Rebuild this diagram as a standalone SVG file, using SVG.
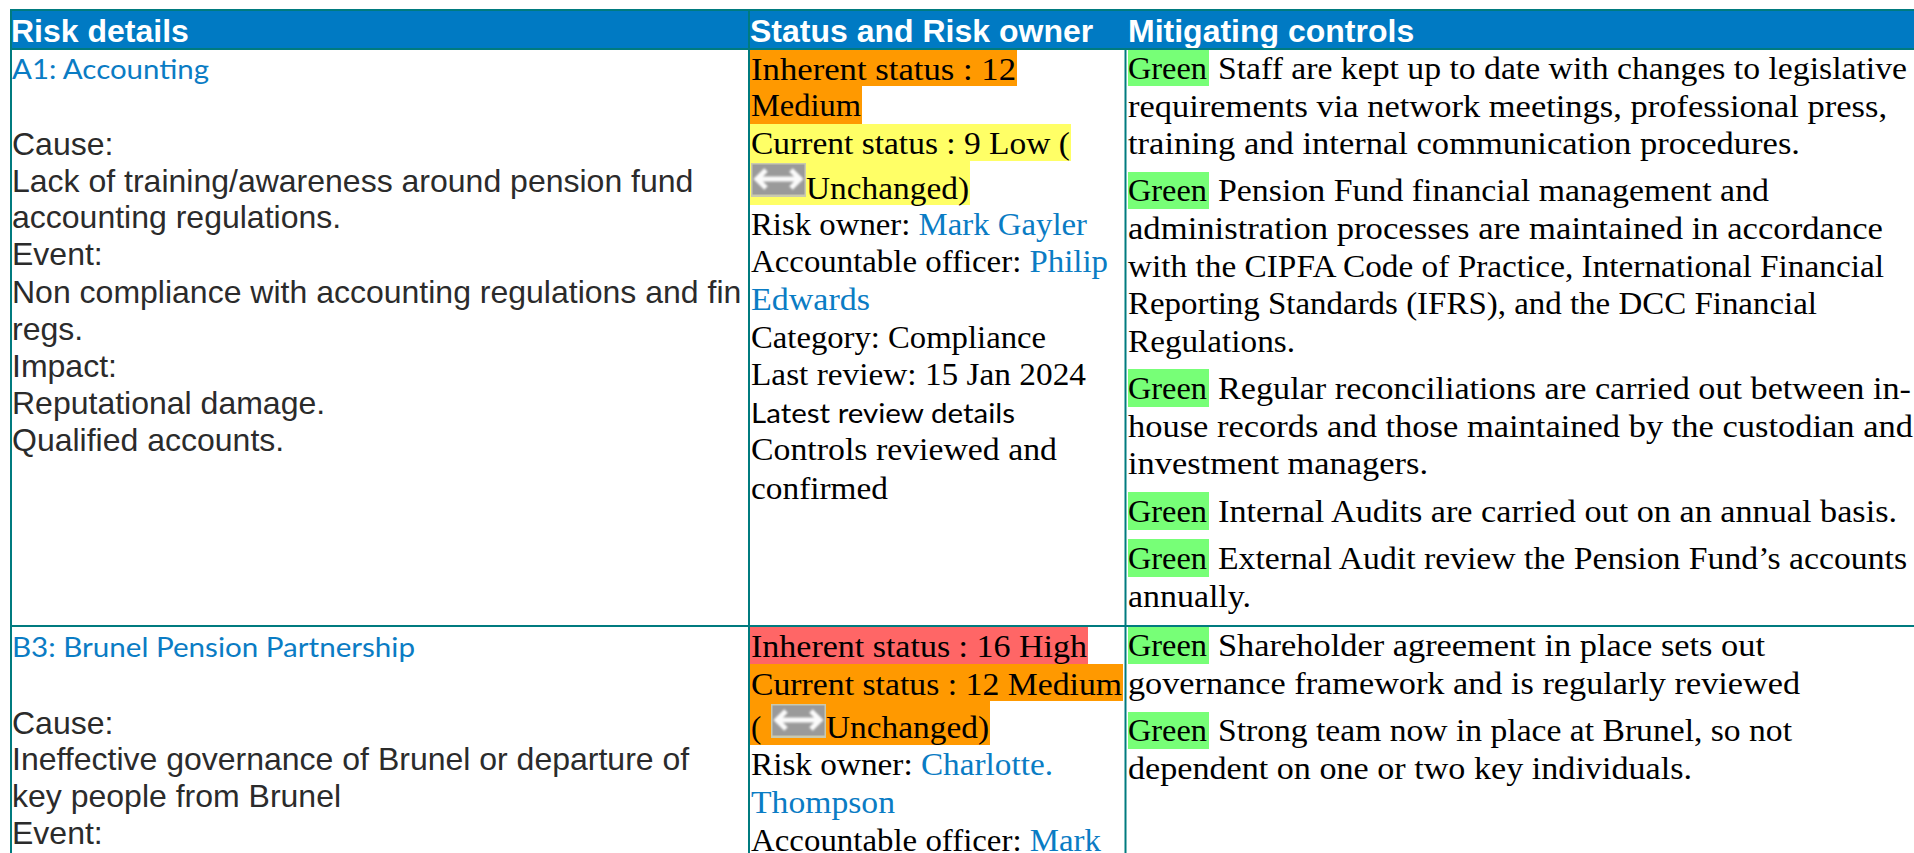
<svg xmlns="http://www.w3.org/2000/svg" width="1914" height="853" viewBox="0 0 1914 853">
<style>
text{white-space:pre}
.l{fill:#007ac3}
.h{font:bold 32px "Liberation Sans",Arial,sans-serif;fill:#fff}
.b{font:32px "Liberation Sans",Arial,sans-serif;fill:#2b2b2b}
.t{font:27px Lato,"Open Sans",sans-serif;fill:#0a7cc4}
.k{font:27px Lato,"Open Sans",sans-serif;fill:#000}
.s{font:31px "Liberation Serif",serif;fill:#000}
.a{fill:#0a7cc4}
.or{fill:#ff9900}.ye{fill:#ffff66}.re{fill:#ff6666}.gr{fill:#77ff77}
</style>
<defs>
<filter id="soft" x="-10%" y="-20%" width="120%" height="140%"><feGaussianBlur stdDeviation="0.9"/></filter>
<g id="ico"><rect width="55" height="34" fill="#c9c9b0"/><rect x="1.500" y="1.500" width="52" height="30" fill="#9a9a9a"/><g filter="url(#soft)" fill="none" stroke="#fbfbfb"><path d="M8 16H47" stroke-width="5"/><path d="M15 7L6 16L15 25M40 7L49 16L40 25" stroke-width="5"/></g></g>
</defs>
<rect width="1914" height="853" fill="#fff"/>
<g id="header">
<rect x="12" y="10" width="1902" height="39" class="l"/>
<text x="11" y="42" class="h">Risk details</text>
<text x="750" y="42" class="h">Status and Risk owner</text>
<text x="1128" y="42" class="h">Mitigating controls</text>
</g>
<g id="highlights">
<rect x="750" y="49" width="267" height="37" class="or"/>
<rect x="750" y="86" width="112" height="38" class="or"/>
<rect x="750" y="124" width="321" height="37" class="ye"/>
<rect x="750" y="161" width="220" height="44" class="ye"/>
<rect x="750" y="627" width="338" height="37" class="re"/>
<rect x="750" y="664" width="373" height="37" class="or"/>
<rect x="750" y="701" width="240" height="44" class="or"/>
<rect x="1128" y="49" width="81" height="37" class="gr"/>
<rect x="1128" y="172" width="81" height="37" class="gr"/>
<rect x="1128" y="369" width="81" height="38" class="gr"/>
<rect x="1128" y="492" width="81" height="38" class="gr"/>
<rect x="1128" y="539" width="81" height="38" class="gr"/>
<rect x="1128" y="627" width="81" height="37" class="gr"/>
<rect x="1128" y="712" width="81" height="37" class="gr"/>
</g>
<g id="grid" fill="none" stroke="#007b7f" stroke-width="2">
<path d="M11 853V10H1914M11 49H1914M11 626H1914M749 10V853M1125.500 49V853"/>
</g>
<g id="row-a1-details">
<text x="12" y="79" class="t" textLength="197" lengthAdjust="spacingAndGlyphs">A1: Accounting</text>
<text x="12" y="155" class="b">Cause:</text>
<text x="12" y="192" class="b">Lack of training/awareness around pension fund</text>
<text x="12" y="228" class="b">accounting regulations.</text>
<text x="12" y="265" class="b">Event:</text>
<text x="12" y="303" class="b">Non compliance with accounting regulations and fin</text>
<text x="12" y="340" class="b">regs.</text>
<text x="12" y="377" class="b">Impact:</text>
<text x="12" y="414" class="b">Reputational damage.</text>
<text x="12" y="451" class="b">Qualified accounts.</text>
</g>
<g id="row-a1-status">
<text x="751" y="80" class="s" textLength="265" lengthAdjust="spacingAndGlyphs">Inherent status : 12</text>
<text x="751" y="116" class="s" textLength="110" lengthAdjust="spacingAndGlyphs">Medium</text>
<text x="751" y="154" class="s" textLength="319" lengthAdjust="spacingAndGlyphs">Current status : 9 Low (</text>
<use href="#ico" x="751" y="163"/>
<text x="806" y="199" class="s" textLength="163" lengthAdjust="spacingAndGlyphs">Unchanged)</text>
<text x="751" y="235" class="s" textLength="336" lengthAdjust="spacingAndGlyphs">Risk owner: <tspan class="a">Mark Gayler</tspan></text>
<text x="751" y="272" class="s" textLength="357" lengthAdjust="spacingAndGlyphs">Accountable officer: <tspan class="a">Philip</tspan></text>
<text x="751" y="310" class="s a" textLength="119" lengthAdjust="spacingAndGlyphs">Edwards</text>
<text x="751" y="348" class="s" textLength="295" lengthAdjust="spacingAndGlyphs">Category: Compliance</text>
<text x="751" y="385" class="s" textLength="335" lengthAdjust="spacingAndGlyphs">Last review: 15 Jan 2024</text>
<text x="751" y="423" class="k" textLength="264" lengthAdjust="spacingAndGlyphs">Latest review details</text>
<text x="751" y="460" class="s" textLength="306" lengthAdjust="spacingAndGlyphs">Controls reviewed and</text>
<text x="751" y="499" class="s" textLength="137" lengthAdjust="spacingAndGlyphs">confirmed</text>
</g>
<g id="row-a1-controls">
<text x="1128" y="79" class="s" textLength="79" lengthAdjust="spacingAndGlyphs">Green</text>
<text x="1218" y="79" class="s" textLength="689" lengthAdjust="spacingAndGlyphs">Staff are kept up to date with changes to legislative</text>
<text x="1128" y="117" class="s" textLength="759" lengthAdjust="spacingAndGlyphs">requirements via network meetings, professional press,</text>
<text x="1128" y="154" class="s" textLength="672" lengthAdjust="spacingAndGlyphs">training and internal communication procedures.</text>
<text x="1128" y="201" class="s" textLength="79" lengthAdjust="spacingAndGlyphs">Green</text>
<text x="1218" y="201" class="s" textLength="551" lengthAdjust="spacingAndGlyphs">Pension Fund financial management and</text>
<text x="1128" y="239" class="s" textLength="755" lengthAdjust="spacingAndGlyphs">administration processes are maintained in accordance</text>
<text x="1128" y="277" class="s" textLength="756" lengthAdjust="spacingAndGlyphs">with the CIPFA Code of Practice, International Financial</text>
<text x="1128" y="314" class="s" textLength="689" lengthAdjust="spacingAndGlyphs">Reporting Standards (IFRS), and the DCC Financial</text>
<text x="1128" y="352" class="s" textLength="167" lengthAdjust="spacingAndGlyphs">Regulations.</text>
<text x="1128" y="399" class="s" textLength="79" lengthAdjust="spacingAndGlyphs">Green</text>
<text x="1218" y="399" class="s" textLength="693" lengthAdjust="spacingAndGlyphs">Regular reconciliations are carried out between in-</text>
<text x="1128" y="437" class="s" textLength="785" lengthAdjust="spacingAndGlyphs">house records and those maintained by the custodian and</text>
<text x="1128" y="474" class="s" textLength="300" lengthAdjust="spacingAndGlyphs">investment managers.</text>
<text x="1128" y="522" class="s" textLength="79" lengthAdjust="spacingAndGlyphs">Green</text>
<text x="1218" y="522" class="s" textLength="679" lengthAdjust="spacingAndGlyphs">Internal Audits are carried out on an annual basis.</text>
<text x="1128" y="569" class="s" textLength="79" lengthAdjust="spacingAndGlyphs">Green</text>
<text x="1218" y="569" class="s" textLength="689" lengthAdjust="spacingAndGlyphs">External Audit review the Pension Fund’s accounts</text>
<text x="1128" y="607" class="s" textLength="123" lengthAdjust="spacingAndGlyphs">annually.</text>
</g>
<g id="row-b3-details">
<text x="12" y="657" class="t" textLength="403" lengthAdjust="spacingAndGlyphs">B3: Brunel Pension Partnership</text>
<text x="12" y="734" class="b">Cause:</text>
<text x="12" y="770" class="b">Ineffective governance of Brunel or departure of</text>
<text x="12" y="807" class="b">key people from Brunel</text>
<text x="12" y="844" class="b">Event:</text>
</g>
<g id="row-b3-status">
<text x="751" y="657" class="s" textLength="336" lengthAdjust="spacingAndGlyphs">Inherent status : 16 High</text>
<text x="751" y="695" class="s" textLength="371" lengthAdjust="spacingAndGlyphs">Current status : 12 Medium</text>
<text x="751" y="738" class="s">(</text>
<use href="#ico" x="771" y="704"/>
<text x="826" y="738" class="s" textLength="163" lengthAdjust="spacingAndGlyphs">Unchanged)</text>
<text x="751" y="775" class="s" textLength="302" lengthAdjust="spacingAndGlyphs">Risk owner: <tspan class="a">Charlotte.</tspan></text>
<text x="751" y="813" class="s a" textLength="144" lengthAdjust="spacingAndGlyphs">Thompson</text>
<text x="751" y="851" class="s" textLength="350" lengthAdjust="spacingAndGlyphs">Accountable officer: <tspan class="a">Mark</tspan></text>
</g>
<g id="row-b3-controls">
<text x="1128" y="656" class="s" textLength="79" lengthAdjust="spacingAndGlyphs">Green</text>
<text x="1218" y="656" class="s" textLength="547" lengthAdjust="spacingAndGlyphs">Shareholder agreement in place sets out</text>
<text x="1128" y="694" class="s" textLength="672" lengthAdjust="spacingAndGlyphs">governance framework and is regularly reviewed</text>
<text x="1128" y="741" class="s" textLength="79" lengthAdjust="spacingAndGlyphs">Green</text>
<text x="1218" y="741" class="s" textLength="574" lengthAdjust="spacingAndGlyphs">Strong team now in place at Brunel, so not</text>
<text x="1128" y="779" class="s" textLength="564" lengthAdjust="spacingAndGlyphs">dependent on one or two key individuals.</text>
</g>
</svg>
